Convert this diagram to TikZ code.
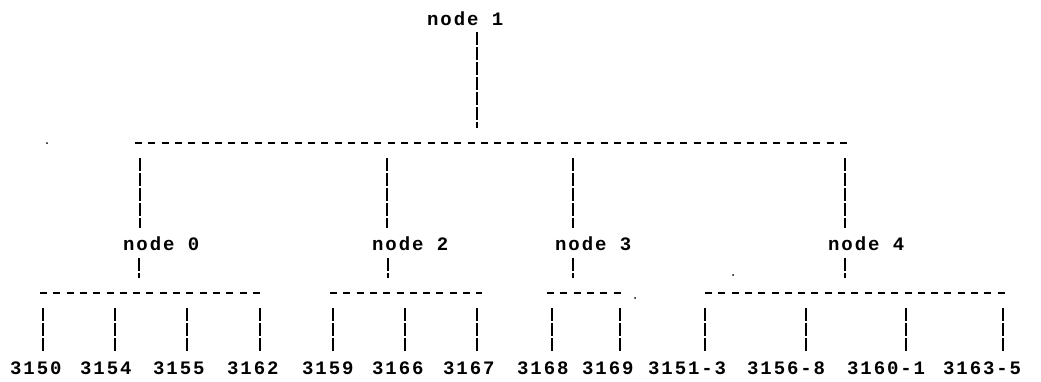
\documentclass[tikz,border=0pt]{standalone}
\usepackage{fontspec}
\newfontfamily\typewr[LetterSpace=10]{Liberation Mono}
\begin{document}
\begin{tikzpicture}[x=1pt,y=-1pt,
  lbl/.style={inner sep=0pt,anchor=base west,font=\typewr\bfseries\fontsize{19}{19}\selectfont},
  vline/.style={line width=1.5pt,dash pattern=on 13pt off 2pt},
  bus/.style={line width=1.7pt,dash pattern=on 7pt off 6.3pt},
  speck/.style={fill=black,circle,inner sep=0pt,minimum size=2pt}]
\useasboundingbox (0,0) rectangle (1041,381);
% labels
\node[lbl] (n1) at (427,25) {node 1};
\node[lbl] (n0) at (123,250) {node 0};
\node[lbl] (n2) at (372,250) {node 2};
\node[lbl] (n3) at (555,250) {node 3};
\node[lbl] (n4) at (828,250) {node 4};
\node[lbl] (l3150) at (10,374) {3150};
\node[lbl] (l3154) at (80,374) {3154};
\node[lbl] (l3155) at (153,374) {3155};
\node[lbl] (l3162) at (227,374) {3162};
\node[lbl] (l3159) at (302,374) {3159};
\node[lbl] (l3166) at (372,374) {3166};
\node[lbl] (l3167) at (443,374) {3167};
\node[lbl] (l3168) at (517,374) {3168};
\node[lbl] (l3169) at (582,374) {3169};
\node[lbl] (l3151) at (648,374) {3151-3};
\node[lbl] (l3156) at (747,374) {3156-8};
\node[lbl] (l3160) at (847,374) {3160-1};
\node[lbl] (l3163) at (943,374) {3163-5};
% bus coordinates
\coordinate (t1) at (477,32);  \coordinate (t2) at (477,128);
\coordinate (ba) at (135,143); \coordinate (bb) at (848,143);
\foreach \x/\n in {140/0,387/2,573/3,845/4}{
  \coordinate (u\n) at (\x,158); \coordinate (d\n) at (\x,228);
  \draw[vline] (u\n) -- (d\n);
}
\draw[vline] (t1) -- (t2);
\draw[bus] (ba) -- (bb);
% level 2 stems
\foreach \x/\n in {139/0,388/2,573/3,845/4}{
  \coordinate (s\n) at (\x,258); \coordinate (e\n) at (\x,278);
  \draw[vline] (s\n) -- (e\n);
}
% second level buses
\coordinate (a0) at (40,293);  \coordinate (b0) at (262,293);
\coordinate (a2) at (330,293); \coordinate (b2) at (482,293);
\coordinate (a3) at (547,293); \coordinate (b3) at (622,293);
\coordinate (a4) at (705,293); \coordinate (b4) at (1010,293);
\foreach \n in {0,2,3,4}{\draw[bus] (a\n) -- (b\n);}
% leaf stems
\foreach \x [count=\i] in {43,115,187,260,333,405,477,552,620,705,806,906,1003}{
  \coordinate (p\i) at (\x,308); \coordinate (q\i) at (\x,352);
  \draw[vline] (p\i) -- (q\i);
}
% specks
\node[speck] (sp1) at (47,143) {};
\node[speck] (sp2) at (733,275) {};
\node[speck] (sp3) at (635,298) {};
\end{tikzpicture}
\end{document}
